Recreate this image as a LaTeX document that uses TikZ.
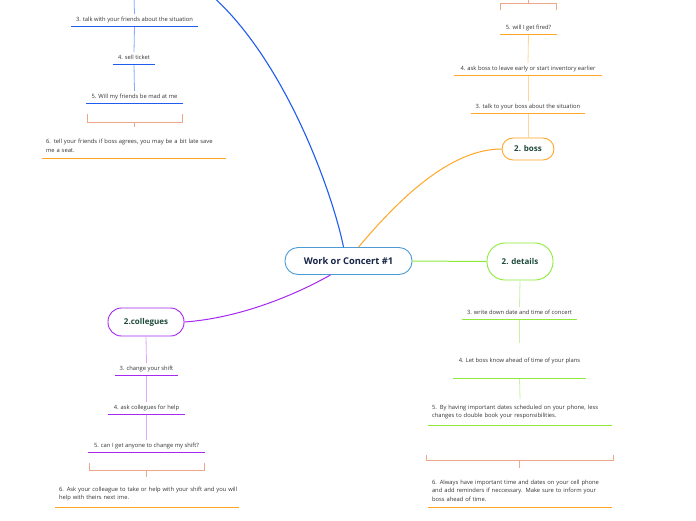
\documentclass[tikz,border=0pt]{standalone}
\usepackage{fontspec}
\setmainfont{Open Sans}
\definecolor{cenline}{HTML}{4B9CD3}
\definecolor{centext}{HTML}{162447}
\definecolor{nodetext}{HTML}{1D4A3C}
\definecolor{itemtext}{HTML}{333333}
\definecolor{fblue}{HTML}{1F5CF0}
\definecolor{fconn}{HTML}{85AAFF}
\definecolor{borange}{HTML}{FFA726}
\definecolor{bconn}{HTML}{FFD699}
\definecolor{dgreen}{HTML}{8EEA3A}
\definecolor{dconn}{HTML}{C8F3A6}
\definecolor{cpurple}{HTML}{A728F0}
\definecolor{cconn}{HTML}{DDA8F8}
\definecolor{brack}{HTML}{EEA688}
\definecolor{sixline}{HTML}{FFA520}
\tikzset{
  mainbox/.style={draw, fill=white, rounded corners=#1, line width=0.9pt, inner sep=0pt},
  itembase/.style={anchor=south, font=\fontsize{5.8}{8.3}\selectfont, text=itemtext, inner xsep=4pt},
  item/.style={itembase, inner ysep=3pt, text height=4.5pt, text depth=1.5pt},
  multi/.style={itembase, align=left, text width=184pt, inner xsep=0pt, inner ysep=6pt},
  conn/.style={line width=0.8pt},
  uline/.style={line width=1.4pt},
  bracketline/.style={draw=brack, line width=0.8pt},
}
\newcommand{\txtline}[1]{\mbox{\hspace*{4pt}#1}}
\begin{document}
\begin{tikzpicture}[x=1pt,y=-1pt]
\clip (0,0) rectangle (696,520);
\fill[white] (0,0) rectangle (696,520);

% main nodes
\node[mainbox=13pt, draw=cenline, minimum width=127pt, minimum height=27pt,
  font=\fontsize{9.3}{11}\bfseries, text=centext] (cen) at (348.5,261) {Work or Concert \#1};
\node[mainbox=11pt, draw=borange, minimum width=52pt, minimum height=22pt,
  font=\fontsize{8}{10}\bfseries, text=nodetext] (boss) at (528,149) {2. boss};
\node[mainbox=18pt, draw=dgreen, minimum width=66pt, minimum height=37pt,
  font=\fontsize{8}{10}\bfseries, text=nodetext] (det) at (520,261.5) {2. details};
\node[mainbox=13.5pt, draw=cpurple, minimum width=76pt, minimum height=28pt,
  font=\fontsize{8}{10}\bfseries, text=nodetext] (col) at (146,322) {2.collegues};

\coordinate (friends) at (150,-40);
\coordinate (ftop) at (134,-5);

% main connectors
\draw[fblue, line width=1.1pt] ([xshift=-5pt]cen.north) .. controls (330,180) and (260,-10) .. (friends);
\draw[borange, line width=1pt] ([xshift=10pt]cen.north) .. controls (390,210) and (445,149) .. (boss.west);
\draw[dgreen, line width=1pt] (cen.east) -- (det.west);
\draw[cpurple, line width=1pt] ([xshift=-18pt]cen.south) .. controls (295,295) and (240,318) .. (col.east);

% friends branch
\node[item, minimum width=127pt] (f3) at (134.5,26.5) {3. talk with your friends about the situation};
\node[item, minimum width=42pt] (f4) at (134,64.5) {4. sell ticket};
\node[item, minimum width=97pt] (f5) at (134.5,103.5) {5. Will my friends be mad at me};
\node[multi] (f6) at (134,158.5) {\txtline{6. tell your friends if boss agrees, you may be a bit late save}\\\txtline{me a seat.}};
\draw[fconn, conn] (ftop) -- (f3.north);
\draw[fconn, conn] (f3.south) -- (f4.north);
\draw[fconn, conn] (f4.south) -- (f5.north);
\draw[bracketline] (87,114) |- (182,122) -- (182,114);
\coordinate (fbr) at (134,122);
\draw[brack, conn] (fbr) -- ++(0,5);

% boss branch
\node[item, minimum width=114pt] (b3) at (528,113.5) {3. talk to your boss about the situation};
\node[item, minimum width=148pt] (b4) at (528,75.5) {4. ask boss to leave early or start inventory earlier};
\node[item, minimum width=57pt] (b5) at (528.5,34.5) {5. will I get fired?};
\draw[bconn, conn] (boss.north) -- (b3.south);
\draw[bconn, conn] (b3.north) -- (b4.south);
\draw[bconn, conn] (b4.north) -- (b5.south);
\draw[bracketline] (500,10) |- (556,3.3) -- (556,10);
\coordinate (bbr) at (528,3.3);
\draw[brack, conn] (bbr) -- ++(0,-6);

% details branch
\node[item, minimum width=115pt] (d3) at (519.5,319.5) {3. write down date and time of concert};
\node[item, minimum width=133pt, minimum height=35pt] (d4) at (519.5,378.5) {4. Let boss know ahead of time of your plans};
\node[multi] (d5) at (520,425.5) {\txtline{5. By having important dates scheduled on your phone, less}\\\txtline{changes to double book your responsibilities.}};
\node[multi] (d6) at (520,507.5) {\txtline{6. Always have important time and dates on your cell phone}\\\txtline{and add reminders if neccessary. Make sure to inform your}\\\txtline{boss ahead of time.}};
\draw[dconn, conn] (det.south) -- (d3.north);
\draw[dconn, conn] (d3.south) -- (d4.north);
\draw[dconn, conn] (d4.south) -- (d5.north);
\draw[bracketline] (426,455) |- (613,460.7) -- (613,455);
\coordinate (dbr) at (519.5,460.7);
\draw[brack, conn] (dbr) -- ++(0,7);

% colleagues branch
\node[item, minimum width=63pt] (c3) at (146.5,375.5) {3. change your shift};
\node[item, minimum width=77pt] (c4) at (146.5,414.5) {4. ask collegues for help};
\node[item, minimum width=117pt] (c5) at (146.5,452.5) {5. can I get anyone to change my shift?};
\node[multi] (c6) at (147,507.5) {\txtline{6. Ask your colleague to take or help with your shift and you will}\\\txtline{help with theirs next ime.}};
\draw[cconn, conn] (col.south) -- (c3.north);
\draw[cconn, conn] (c3.south) -- (c4.north);
\draw[cconn, conn] (c4.south) -- (c5.north);
\draw[bracketline] (89,463) |- (204,470.7) -- (204,463);
\coordinate (cbr) at (146.5,470.7);
\draw[brack, conn] (cbr) -- ++(0,6.5);

% underlines
\draw[uline, fblue] (f3.south west) -- (f3.south east);
\draw[uline, fblue] (f4.south west) -- (f4.south east);
\draw[uline, fblue] (f5.south west) -- (f5.south east);
\draw[uline, sixline] (f6.south west) -- (f6.south east);
\draw[uline, borange] (b3.south west) -- (b3.south east);
\draw[uline, borange] (b4.south west) -- (b4.south east);
\draw[uline, borange] (b5.south west) -- (b5.south east);
\draw[uline, dgreen] (d3.south west) -- (d3.south east);
\draw[uline, dgreen] (d4.south west) -- (d4.south east);
\draw[uline, dgreen] (d5.south west) -- (d5.south east);
\draw[uline, sixline] (d6.south west) -- (d6.south east);
\draw[uline, cpurple] (c3.south west) -- (c3.south east);
\draw[uline, cpurple] (c4.south west) -- (c4.south east);
\draw[uline, cpurple] (c5.south west) -- (c5.south east);
\draw[uline, sixline] (c6.south west) -- (c6.south east);
\end{tikzpicture}
\end{document}
